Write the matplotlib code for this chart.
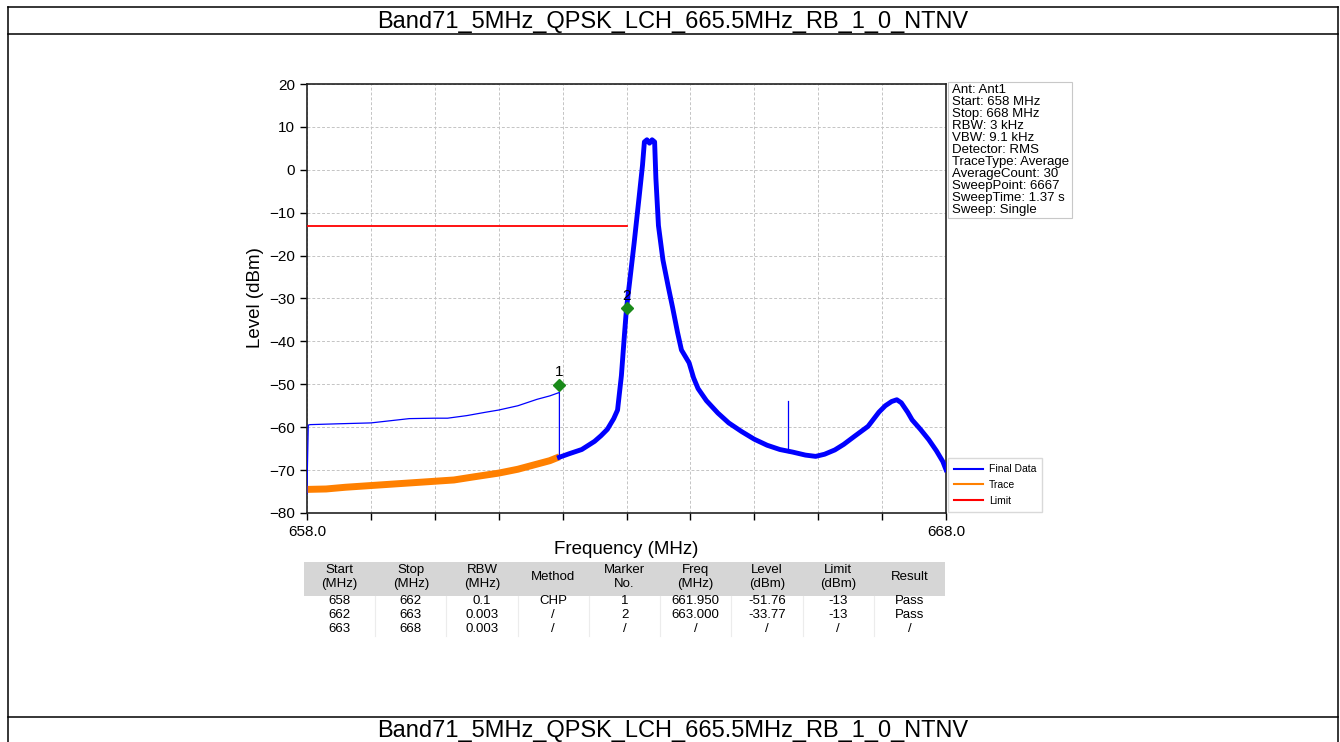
import numpy as np
import matplotlib.pyplot as plt
from matplotlib.patches import Rectangle
from matplotlib.lines import Line2D

plt.rcParams['font.family'] = ['Liberation Sans', 'DejaVu Sans']

page_title = 'Band71_5MHz_QPSK_LCH_665.5MHz_RB_1_0_NTNV'

# Final Data, channel power part 658 - 661.95 MHz (thin trace)
final_thin_freq = [658.0, 658.0, 658.02, 658.05, 658.5, 659.0, 659.3, 659.6, 660.0, 660.2,
                   660.5, 660.8, 661.0, 661.3, 661.6, 661.8, 661.95, 661.95]
final_thin_level = [-75.5, -74.0, -59.5, -59.4, -59.2, -59.0, -58.5, -58.0, -57.9, -57.9,
                    -57.3, -56.5, -56.0, -55.0, -53.5, -52.7, -51.9, -67.0]

# Final Data, swept part 661.95 - 668 MHz
final_freq = [661.95, 662.1, 662.3, 662.5, 662.6, 662.7, 662.8, 662.86, 662.92, 662.97,
              663.0, 663.05, 663.12, 663.2, 663.25, 663.28, 663.32, 663.36, 663.4, 663.44,
              663.46, 663.5, 663.57, 663.65, 663.72, 663.8, 663.86, 663.92, 663.98, 664.05,
              664.12, 664.25, 664.43, 664.6, 664.8, 665.0, 665.2, 665.4, 665.6, 665.8,
              665.96, 666.1, 666.26, 666.4, 666.57, 666.78, 666.95, 667.05, 667.15, 667.23,
              667.3, 667.4, 667.47, 667.6, 667.73, 667.85, 667.95, 668.0]
final_level = [-67.0, -66.2, -65.2, -63.3, -62.0, -60.5, -58.0, -56.0, -48.0, -38.0,
               -32.3, -26.0, -17.0, -6.0, 1.0, 6.5, 7.0, 6.2, 7.0, 6.5,
               -2.0, -13.0, -21.0, -27.0, -32.0, -38.0, -42.0, -43.5, -45.0, -48.5,
               -51.0, -53.8, -56.7, -59.0, -61.0, -62.8, -64.2, -65.2, -65.8, -66.5,
               -66.8, -66.3, -65.3, -64.0, -62.1, -59.8, -56.5, -55.0, -54.0, -53.6,
               -54.3, -56.5, -58.3, -60.5, -62.9, -65.5, -68.0, -69.9]

# narrow spur
spur_freq = [665.52, 665.52]
spur_level = [-65.7, -54.0]

# Trace (raw sweep under the channel power part)
trace_freq = [658.0, 658.3, 658.6, 659.0, 659.4, 659.8, 660.0, 660.3, 660.6, 661.0,
              661.3, 661.6, 661.8, 661.95]
trace_level = [-74.5, -74.4, -74.0, -73.6, -73.2, -72.8, -72.6, -72.3, -71.6, -70.7,
               -69.8, -68.6, -67.8, -66.9]

limit_freq = [658.0, 663.0]
limit_level = [-13.0, -13.0]

marker_no = ['1', '2']
marker_freq = [661.95, 663.0]
marker_level = [-50.1, -32.3]

info_lines = ['Ant: Ant1', 'Start: 658 MHz', 'Stop: 668 MHz', 'RBW: 3 kHz', 'VBW: 9.1 kHz',
              'Detector: RMS', 'TraceType: Average', 'AverageCount: 30', 'SweepPoint: 6667',
              'SweepTime: 1.37 s', 'Sweep: Single']

table_header = [['Start', '(MHz)'], ['Stop', '(MHz)'], ['RBW', '(MHz)'], ['Method'],
                ['Marker', 'No.'], ['Freq', '(MHz)'], ['Level', '(dBm)'], ['Limit', '(dBm)'],
                ['Result']]
table_rows = [['658', '662', '0.1', 'CHP', '1', '661.950', '-51.76', '-13', 'Pass'],
              ['662', '663', '0.003', '/', '2', '663.000', '-33.77', '-13', 'Pass'],
              ['663', '668', '0.003', '/', '/', '/', '/', '/', '/']]

W, H = 1340, 742
fig = plt.figure(figsize=(W / 100, H / 100), dpi=100)

# page (document cell) layer, pixel coordinates
bg = fig.add_axes([0, 0, 1, 1])
bg.set_xlim(0, W)
bg.set_ylim(H, 0)
bg.axis('off')
for y in [6.5, 34.3, 717]:
    bg.plot([7.5, 1337.5], [y, y], color='black', lw=1.1)
bg.plot([7.5, 7.5], [6.5, H], color='black', lw=1.1)
bg.plot([1337.5, 1337.5], [6.5, H], color='black', lw=1.1)
bg.text(673, 28.3, page_title, fontsize=17, ha='center', va='baseline')
bg.text(673, 736.5, page_title, fontsize=17, ha='center', va='baseline')

# spectrum plot
ax = fig.add_axes([307 / W, 1 - 513 / H, (946 - 307) / W, (513 - 84) / H])
ax.plot(trace_freq, trace_level, color='#ff8000', lw=5, solid_capstyle='butt', zorder=3)
ax.plot(final_thin_freq, final_thin_level, color='#0000ff', lw=0.9, zorder=4)
ax.plot(final_freq, final_level, color='#0000ff', lw=3.5, zorder=4)
ax.plot(spur_freq, spur_level, color='#0000ff', lw=0.9, zorder=4)
ax.plot(limit_freq, limit_level, color='#ff0000', lw=1.3, zorder=5)
ax.plot(marker_freq, marker_level, ls='none', marker='D', ms=6, color='#1a8a1a', zorder=6)
for n, f, l in zip(marker_no, marker_freq, marker_level):
    ax.annotate(n, (f, l), xytext=(0, 9), textcoords='offset points',
                ha='center', va='center', fontsize=11, zorder=7)

ax.set_xlim(658, 668)
ax.set_ylim(-80, 20)
ax.set_xticks(np.arange(658, 669, 1))
ax.set_xticklabels(['658.0'] + [''] * 9 + ['668.0'])
ax.set_yticks(np.arange(-80, 21, 10))
ax.tick_params(direction='out', length=5, width=1, labelsize=11)
ax.grid(True, color='#c4c4c4', ls=(0, (3, 2)), lw=0.7)
for s in ax.spines.values():
    s.set_linewidth(1.2)
    s.set_color('#222222')

fig.text(255 / W, 1 - 298 / H, 'Level (dBm)', rotation=90, ha='center', va='center', fontsize=13.5)
fig.text(626.5 / W, 1 - 550 / H, 'Frequency (MHz)', ha='center', va='center', fontsize=13.5)

handles = [Line2D([], [], color='#0000ff', lw=1.5),
           Line2D([], [], color='#ff8000', lw=1.5),
           Line2D([], [], color='#ff0000', lw=1.5)]
ax.legend(handles, ['Final Data', 'Trace', 'Limit'], loc='upper left',
          bbox_to_anchor=(948 / W, 1 - 458 / H), bbox_transform=fig.transFigure,
          fontsize=7.5, frameon=True, fancybox=False, edgecolor='#d0d0d0',
          handlelength=2.8, handletextpad=0.5, labelspacing=0.55, borderaxespad=0,
          borderpad=0.6)

# info box
bg.add_patch(Rectangle((948, 82), 124, 136, facecolor='white', edgecolor='#c8c8c8', lw=0.8))
for i, line in enumerate(info_lines):
    bg.text(952, 90 + i * 12.0, line, fontsize=9.5, ha='left', va='center')

# result table
tax = fig.add_axes([304 / W, 1 - 640 / H, 641 / W, 78 / H])
tax.set_xlim(0, 9)
tax.set_ylim(640, 562)
tax.axis('off')
tax.add_patch(Rectangle((0, 562), 9, 34, facecolor='#d6d6d6', edgecolor='none'))
for c in range(1, 9):
    tax.plot([c, c], [596, 636], color='#ececec', lw=0.8)
for c, head in enumerate(table_header):
    ys = [577] if len(head) == 1 else [570, 584]
    for y, part in zip(ys, head):
        tax.text(c + 0.5, y, part, ha='center', va='center', fontsize=9.5)
for r, row in enumerate(table_rows):
    for c, val in enumerate(row):
        tax.text(c + 0.5, 601.5 + r * 13.5, val, ha='center', va='center', fontsize=9.5)

fig.savefig('out.png', dpi=100)
